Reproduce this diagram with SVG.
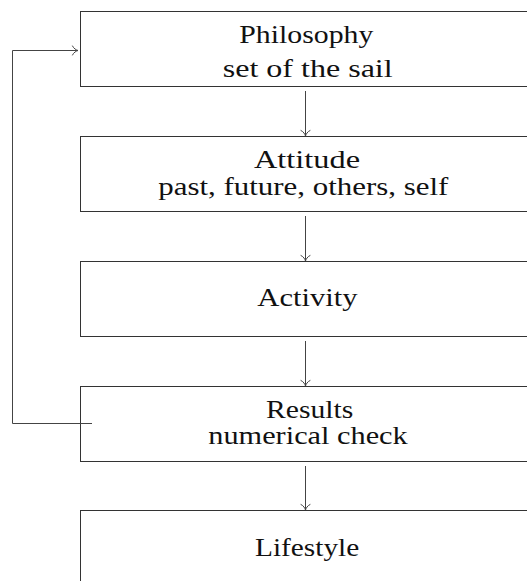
<svg xmlns="http://www.w3.org/2000/svg" width="527" height="581" viewBox="0 0 527 581">
<style>
.box{fill:#fff;stroke:#333;stroke-width:1}
.lbl{font-family:'Liberation Serif','Times New Roman',serif;font-size:25px;fill:#111}
.con{fill:none;stroke:#444;stroke-width:1}
</style>
<defs>
<marker id="to" markerUnits="userSpaceOnUse" markerWidth="14" markerHeight="14" viewBox="-7 -7 14 14" refX="0" refY="0" orient="auto" overflow="visible">
<path d="M -5.5 -4.5 C -4.5 -2 -1.5 -0.4 0 0 C -1.5 0.4 -4.5 2 -5.5 4.5" fill="none" stroke="#444" stroke-width="1" stroke-linecap="round"/>
</marker>
</defs>
<g id="philosophy">
<rect class="box" x="80.5" y="11.5" width="449" height="75"/>
<text class="lbl" x="239.3" y="43.3" textLength="134" lengthAdjust="spacingAndGlyphs">Philosophy</text>
<text class="lbl" x="222.7" y="76.7" textLength="170" lengthAdjust="spacingAndGlyphs">set of the sail</text>
</g>
<g id="attitude">
<rect class="box" x="80.5" y="136.5" width="449" height="75"/>
<text class="lbl" x="254" y="168.3" textLength="106" lengthAdjust="spacingAndGlyphs">Attitude</text>
<text class="lbl" x="158.3" y="195" textLength="290" lengthAdjust="spacingAndGlyphs">past, future, others, self</text>
</g>
<g id="activity">
<rect class="box" x="80.5" y="261.5" width="449" height="75"/>
<text class="lbl" x="257.3" y="306" textLength="100.4" lengthAdjust="spacingAndGlyphs">Activity</text>
</g>
<g id="results">
<rect class="box" x="80.5" y="386.5" width="449" height="75"/>
<text class="lbl" x="266" y="418" textLength="87.3" lengthAdjust="spacingAndGlyphs">Results</text>
<text class="lbl" x="208.3" y="444.3" textLength="199.4" lengthAdjust="spacingAndGlyphs">numerical check</text>
</g>
<g id="lifestyle">
<rect class="box" x="80.5" y="510.5" width="449" height="75"/>
<text class="lbl" x="255" y="556" textLength="104.3" lengthAdjust="spacingAndGlyphs">Lifestyle</text>
</g>
<g id="connectors">
<path class="con" d="M 305.5 91 L 305.5 136" marker-end="url(#to)"/>
<path class="con" d="M 305.5 216 L 305.5 261" marker-end="url(#to)"/>
<path class="con" d="M 305.5 341 L 305.5 386" marker-end="url(#to)"/>
<path class="con" d="M 305.5 466 L 305.5 510" marker-end="url(#to)"/>
<path class="con" d="M 92 423.5 L 12.5 423.5 L 12.5 50.5 L 78 50.5" marker-end="url(#to)"/>
</g>
</svg>
